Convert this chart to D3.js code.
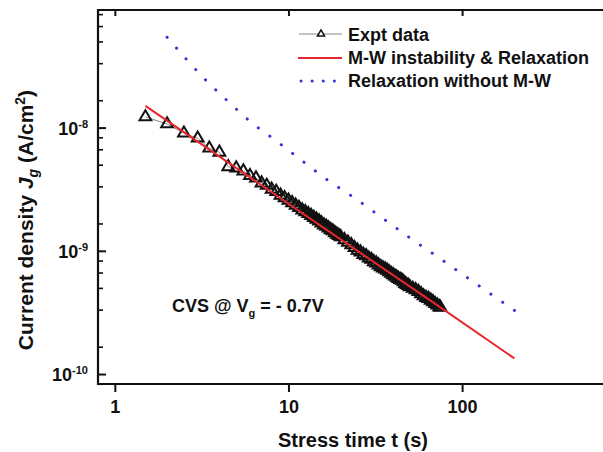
<!DOCTYPE html>
<html>
<head>
<meta charset="utf-8">
<script src="https://cdn.jsdelivr.net/npm/d3@7"></script>
<style>
body { margin: 0; background: #fff; }
text { font-family: "Liberation Sans", Arial, sans-serif; font-weight: bold; fill: #111; }
</style>
</head>
<body>
<div id="chart"></div>
<script>
// measured data (stress time in s, current density in A/cm2)
var timeExpt = [1.5, 2, 2.5, 3, 3.5, 4, 4.5, 5, 5.5, 6, 6.5, 7, 7.5, 8, 8.5, 9, 9.5, 10,
  10.5, 11, 11.5, 12, 12.5, 13, 13.5, 14, 14.5, 15, 15.5, 16, 16.5, 17, 17.5, 18, 18.5, 19, 19.5, 20,
  21, 22, 23, 24, 25, 26, 27, 28, 29, 30, 31, 32, 33, 34, 35, 36, 37, 38, 39, 40,
  41, 42, 43, 44, 45, 46, 47, 48, 49, 50, 52, 54, 56, 58, 60, 62, 64, 66, 68, 70, 72, 74, 75];
var jExpt = [1.22e-8, 1.07e-8, 9.0e-9, 8.2e-9, 6.8e-9, 6.3e-9, 4.8e-9, 4.7e-9, 4.43e-9, 4.07e-9,
  3.89e-9, 3.55e-9, 3.39e-9, 3.16e-9, 3.02e-9, 2.82e-9, 2.69e-9, 2.57e-9,
  2.45e-9, 2.34e-9, 2.24e-9, 2.14e-9, 2.07e-9, 2.00e-9, 1.93e-9, 1.86e-9, 1.80e-9, 1.74e-9,
  1.68e-9, 1.62e-9, 1.58e-9, 1.53e-9, 1.48e-9, 1.45e-9, 1.40e-9, 1.36e-9, 1.33e-9, 1.30e-9,
  1.23e-9, 1.17e-9, 1.12e-9, 1.06e-9, 1.01e-9, 9.77e-10, 9.33e-10, 9.12e-10, 8.71e-10, 8.51e-10,
  8.13e-10, 7.94e-10, 7.67e-10, 7.41e-10, 7.24e-10, 7.10e-10, 6.95e-10, 6.75e-10, 6.55e-10, 6.38e-10,
  6.24e-10, 6.10e-10, 5.96e-10, 5.85e-10, 5.75e-10, 5.60e-10, 5.43e-10, 5.31e-10, 5.22e-10, 5.10e-10,
  4.95e-10, 4.82e-10, 4.66e-10, 4.47e-10, 4.30e-10, 4.17e-10, 4.10e-10, 3.97e-10, 3.85e-10,
  3.72e-10, 3.62e-10, 3.51e-10, 3.47e-10];

// M-W instability & Relaxation fit
var timeFit = [1.5, 10, 75, 200];
var jFit = [1.5e-8, 2.41e-9, 3.47e-10, 1.34e-10];

// Relaxation without M-W
var timeRelax = [2, 3.42, 4.58, 6.16, 8.28, 11.2, 17.4, 23.5, 36.6, 49.4, 77.1, 103, 161, 216];
var jRelax = [5.41e-8, 2.35e-8, 1.59e-8, 1.09e-8, 8.02e-9, 5.79e-9, 3.62e-9, 2.74e-9,
  1.75e-9, 1.29e-9, 8.38e-10, 6.29e-10, 4.06e-10, 3.05e-10];

var xTicks = [1, 10, 100];
var yTicks = [1e-8, 1e-9, 1e-10];
var yTickExp = ["-8", "-9", "-10"];
var yMinorMult = [1.6667, 3.3333, 5, 6.6667, 8.3333];
var legendNames = ["Expt data", "M-W instability & Relaxation", "Relaxation without M-W"];

var width = 603, height = 452;
var margin = {left: 98, right: 612, top: 10, bottom: 384};

var svg = d3.select("#chart")
  .append("svg")
  .attr("width", width)
  .attr("height", height);

var x = d3.scaleLog().domain([0.8, 730]).range([margin.left, margin.right]);
var y = d3.scaleLog().domain([8.3e-11, 9e-8]).range([margin.bottom, margin.top]);

// minor y ticks (Origin style: 5 linear steps per decade)
var yMinor = [];
[-11, -10, -9, -8].forEach(function(e) {
  yMinorMult.forEach(function(m) {
    var v = m * Math.pow(10, e);
    if (v > 8.3e-11 && v < 9e-8) yMinor.push(v);
  });
});

// bottom axis
svg.append("g")
  .attr("transform", "translate(0," + margin.bottom + ")")
  .call(d3.axisBottom(x).tickValues(xTicks).tickSize(8).tickPadding(8).tickFormat(d3.format("d")))
  .call(function(g) {
    g.select(".domain").remove();
    g.selectAll("line").attr("stroke", "#111").attr("stroke-width", 2);
    g.selectAll("text").attr("font-size", 18).attr("font-family", null).attr("fill", "#111");
  });

// top axis, ticks inward
svg.append("g")
  .attr("transform", "translate(0," + margin.top + ")")
  .call(d3.axisBottom(x).tickValues(xTicks).tickSize(6).tickFormat(""))
  .call(function(g) {
    g.select(".domain").remove();
    g.selectAll("line").attr("stroke", "#111").attr("stroke-width", 2);
  });

// left axis, ticks inward
svg.append("g")
  .attr("transform", "translate(" + margin.left + ",0)")
  .call(d3.axisRight(y).tickValues(yTicks).tickSize(8).tickFormat(""))
  .call(function(g) {
    g.select(".domain").remove();
    g.selectAll("line").attr("stroke", "#111").attr("stroke-width", 2);
  });
svg.append("g")
  .attr("transform", "translate(" + margin.left + ",0)")
  .call(d3.axisRight(y).tickValues(yMinor).tickSize(5).tickFormat(""))
  .call(function(g) {
    g.select(".domain").remove();
    g.selectAll("line").attr("stroke", "#111").attr("stroke-width", 1.6);
  });

// y tick labels 10^n
yTicks.forEach(function(v, i) {
  var t = svg.append("text")
    .attr("x", 88)
    .attr("y", y(v) + 7)
    .attr("text-anchor", "end")
    .attr("font-size", 18);
  t.append("tspan").text("10");
  t.append("tspan").attr("dy", -7).attr("font-size", 11).text(yTickExp[i]);
});

// frame
svg.append("path")
  .attr("d", "M" + margin.right + "," + margin.top + "H" + margin.left + "V" + margin.bottom + "H" + margin.right)
  .attr("fill", "none")
  .attr("stroke", "#111")
  .attr("stroke-width", 2.2);

// relaxation without M-W (dotted blue)
svg.append("path")
  .datum(timeRelax)
  .attr("fill", "none")
  .attr("stroke", "#3434d8")
  .attr("stroke-width", 3)
  .attr("stroke-linecap", "round")
  .attr("stroke-dasharray", "0.1 14.2")
  .attr("d", d3.line()
    .curve(d3.curveMonotoneX)
    .x(function(d) { return x(d); })
    .y(function(d, i) { return y(jRelax[i]); }));

// experimental data: thin grey connecting line
svg.append("path")
  .datum(timeExpt)
  .attr("fill", "none")
  .attr("stroke", "#888")
  .attr("stroke-width", 1)
  .attr("d", d3.line()
    .x(function(d) { return x(d); })
    .y(function(d, i) { return y(jExpt[i]); }));

var tri = d3.symbol().type(d3.symbolTriangle).size(60);
svg.append("g").selectAll("path")
  .data(timeExpt)
  .enter().append("path")
  .attr("d", tri)
  .attr("transform", function(d, i) { return "translate(" + x(d) + "," + y(jExpt[i]) + ")"; })
  .attr("fill", "none")
  .attr("stroke", "#111")
  .attr("stroke-width", 2);

// fit line (red)
svg.append("path")
  .datum(timeFit)
  .attr("fill", "none")
  .attr("stroke", "#e8262c")
  .attr("stroke-width", 2)
  .attr("d", d3.line()
    .x(function(d) { return x(d); })
    .y(function(d, i) { return y(jFit[i]); }));

// legend
var lg = svg.append("g");
lg.append("line").attr("x1", 299).attr("x2", 342).attr("y1", 34).attr("y2", 34)
  .attr("stroke", "#888").attr("stroke-width", 1.2);
lg.append("path").attr("d", d3.symbol().type(d3.symbolTriangle).size(22))
  .attr("transform", "translate(321,34)")
  .attr("fill", "#fff").attr("stroke", "#111").attr("stroke-width", 1.5);
lg.append("line").attr("x1", 298).attr("x2", 342).attr("y1", 58).attr("y2", 58)
  .attr("stroke", "#e8262c").attr("stroke-width", 2);
lg.append("line").attr("x1", 301).attr("x2", 336).attr("y1", 81).attr("y2", 81)
  .attr("stroke", "#3434d8").attr("stroke-width", 3)
  .attr("stroke-linecap", "round").attr("stroke-dasharray", "0.1 11");
lg.selectAll("text")
  .data(legendNames)
  .enter().append("text")
  .attr("x", 348)
  .attr("y", function(d, i) { return 41 + i * 23; })
  .attr("font-size", 18)
  .text(function(d) { return d; });

// annotation
var ann = svg.append("text").attr("x", 172).attr("y", 312).attr("font-size", 18);
ann.append("tspan").text("CVS @ V");
ann.append("tspan").attr("dy", 5).attr("font-size", 11).text("g");
ann.append("tspan").attr("dy", -5).text(" = - 0.7V");

// axis titles
svg.append("text")
  .attr("x", 353)
  .attr("y", 447)
  .attr("text-anchor", "middle")
  .attr("font-size", 20)
  .text("Stress time t (s)");

var yt = svg.append("text")
  .attr("transform", "translate(33,220) rotate(-90)")
  .attr("text-anchor", "middle")
  .attr("font-size", 21);
yt.append("tspan").text("Current density ");
yt.append("tspan").attr("font-style", "italic").text("J");
yt.append("tspan").attr("dy", 5).attr("font-size", 14).attr("font-style", "italic").text("g");
yt.append("tspan").attr("dy", -5).text("  (A/cm");
yt.append("tspan").attr("dy", -8).attr("font-size", 14).text("2");
yt.append("tspan").attr("dy", 8).text(")");
</script>
</body>
</html>
